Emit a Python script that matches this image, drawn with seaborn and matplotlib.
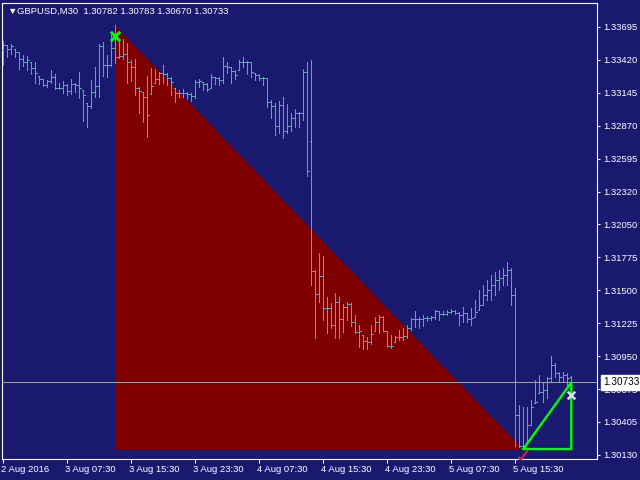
import matplotlib
matplotlib.use("Agg")
from matplotlib import pyplot as plt
import matplotlib.transforms as mtransforms
import numpy as np
import seaborn as sns

# GBPUSD M30 bars
symbol = "GBPUSD,M30"
time_labels = ["2 Aug 2016", "3 Aug 07:30", "3 Aug 15:30", "3 Aug 23:30", "4 Aug 07:30",
               "4 Aug 15:30", "4 Aug 23:30", "5 Aug 07:30", "5 Aug 15:30"]
label_step = 16  # one time label every 16 bars (8 hours)
price_ticks = [1.33695, 1.33420, 1.33145, 1.32870, 1.32595, 1.32320, 1.32050,
               1.31775, 1.31500, 1.31225, 1.30950, 1.30675, 1.30405, 1.30130]

opens = [1.33503, 1.33545, 1.33512, 1.33512, 1.33487, 1.33428, 1.33403, 1.33403, 1.33353, 1.33287,
         1.33262, 1.33212, 1.33245, 1.33278, 1.33187, 1.33187, 1.33212, 1.33162, 1.33220, 1.33212,
         1.33170, 1.33062, 1.33037, 1.33153, 1.33203, 1.33537, 1.33378, 1.33378, 1.33520, 1.33445,
         1.33453, 1.33470, 1.33403, 1.33362, 1.33187, 1.33153, 1.33112, 1.33137, 1.33228, 1.33262,
         1.33312, 1.33303, 1.33270, 1.33187, 1.33145, 1.33145, 1.33145, 1.33137, 1.33120, 1.33237,
         1.33237, 1.33220, 1.33187, 1.33278, 1.33270, 1.33253, 1.33370, 1.33362, 1.33328, 1.33337,
         1.33403, 1.33403, 1.33403, 1.33312, 1.33295, 1.33270, 1.33270, 1.33070, 1.33037, 1.32870,
         1.33045, 1.32828, 1.32870, 1.32937, 1.32978, 1.32978, 1.33320, 1.32745, 1.31662, 1.31470,
         1.31620, 1.31353, 1.31353, 1.31212, 1.31403, 1.31262, 1.31362, 1.31387, 1.31237, 1.31153,
         1.31128, 1.31078, 1.31070, 1.31162, 1.31237, 1.31278, 1.31162, 1.31037, 1.31070, 1.31112,
         1.31112, 1.31120, 1.31187, 1.31262, 1.31262, 1.31262, 1.31270, 1.31270, 1.31278, 1.31328,
         1.31303, 1.31303, 1.31320, 1.31328, 1.31312, 1.31295, 1.31312, 1.31262, 1.31278, 1.31337,
         1.31378, 1.31462, 1.31503, 1.31545, 1.31587, 1.31603, 1.31628, 1.31670, 1.31462, 1.30462,
         1.30203, 1.30237, 1.30378, 1.30562, 1.30645, 1.30653, 1.30670, 1.30770, 1.30878, 1.30812,
         1.30778, 1.30795, 1.30782]
highs = [1.33578, 1.33545, 1.33553, 1.33512, 1.33487, 1.33462, 1.33453, 1.33403, 1.33403, 1.33287,
         1.33262, 1.33253, 1.33337, 1.33303, 1.33228, 1.33245, 1.33220, 1.33262, 1.33228, 1.33320,
         1.33170, 1.33062, 1.33253, 1.33362, 1.33553, 1.33570, 1.33462, 1.33628, 1.33712, 1.33578,
         1.33595, 1.33562, 1.33420, 1.33428, 1.33195, 1.33153, 1.33287, 1.33353, 1.33345, 1.33320,
         1.33378, 1.33312, 1.33278, 1.33187, 1.33170, 1.33178, 1.33153, 1.33145, 1.33253, 1.33262,
         1.33237, 1.33228, 1.33303, 1.33278, 1.33278, 1.33445, 1.33403, 1.33362, 1.33337, 1.33420,
         1.33445, 1.33412, 1.33403, 1.33312, 1.33303, 1.33278, 1.33270, 1.33087, 1.33062, 1.33078,
         1.33112, 1.33053, 1.32978, 1.33012, 1.32987, 1.33345, 1.33403, 1.33420, 1.31670, 1.31812,
         1.31787, 1.31445, 1.31395, 1.31478, 1.31445, 1.31387, 1.31403, 1.31395, 1.31295, 1.31212,
         1.31128, 1.31112, 1.31212, 1.31278, 1.31295, 1.31287, 1.31162, 1.31128, 1.31120, 1.31170,
         1.31187, 1.31212, 1.31270, 1.31328, 1.31278, 1.31295, 1.31287, 1.31287, 1.31337, 1.31328,
         1.31328, 1.31337, 1.31345, 1.31337, 1.31320, 1.31362, 1.31312, 1.31353, 1.31420, 1.31503,
         1.31545, 1.31587, 1.31628, 1.31653, 1.31670, 1.31687, 1.31737, 1.31687, 1.31520, 1.30545,
         1.30528, 1.30528, 1.30587, 1.30753, 1.30795, 1.30737, 1.30778, 1.30953, 1.30895, 1.30820,
         1.30820, 1.30812, 1.30783]
lows = [1.33378, 1.33445, 1.33470, 1.33445, 1.33345, 1.33370, 1.33337, 1.33303, 1.33228, 1.33220,
        1.33203, 1.33195, 1.33228, 1.33178, 1.33178, 1.33145, 1.33128, 1.33137, 1.33153, 1.33103,
        1.32912, 1.32862, 1.33020, 1.33112, 1.33112, 1.33287, 1.33278, 1.33370, 1.33395, 1.33437,
        1.33428, 1.33228, 1.33245, 1.33128, 1.32978, 1.32903, 1.32778, 1.33137, 1.33228, 1.33220,
        1.33228, 1.33212, 1.33128, 1.33070, 1.33112, 1.33112, 1.33095, 1.33078, 1.33103, 1.33195,
        1.33170, 1.33162, 1.33187, 1.33220, 1.33212, 1.33228, 1.33312, 1.33228, 1.33262, 1.33337,
        1.33362, 1.33303, 1.33278, 1.33253, 1.33253, 1.33212, 1.33028, 1.32937, 1.32795, 1.32812,
        1.32770, 1.32812, 1.32828, 1.32862, 1.32862, 1.32920, 1.32453, 1.31545, 1.31103, 1.31403,
        1.31253, 1.31145, 1.31187, 1.31103, 1.31103, 1.31153, 1.31253, 1.31203, 1.31145, 1.31028,
        1.31012, 1.31012, 1.31053, 1.31162, 1.31145, 1.31162, 1.31028, 1.31020, 1.31070, 1.31087,
        1.31087, 1.31103, 1.31170, 1.31195, 1.31187, 1.31203, 1.31245, 1.31253, 1.31262, 1.31253,
        1.31295, 1.31295, 1.31312, 1.31303, 1.31212, 1.31237, 1.31237, 1.31212, 1.31278, 1.31337,
        1.31378, 1.31420, 1.31420, 1.31462, 1.31503, 1.31545, 1.31545, 1.31378, 1.30203, 1.30195,
        1.30178, 1.30237, 1.30378, 1.30562, 1.30645, 1.30570, 1.30603, 1.30737, 1.30778, 1.30737,
        1.30737, 1.30712, 1.30670]
closes = [1.33545, 1.33512, 1.33537, 1.33487, 1.33428, 1.33403, 1.33420, 1.33353, 1.33312, 1.33262,
          1.33212, 1.33245, 1.33278, 1.33187, 1.33187, 1.33212, 1.33162, 1.33220, 1.33212, 1.33187,
          1.33128, 1.33037, 1.33153, 1.33203, 1.33537, 1.33378, 1.33378, 1.33520, 1.33445, 1.33453,
          1.33470, 1.33403, 1.33362, 1.33187, 1.33162, 1.33112, 1.32962, 1.33203, 1.33262, 1.33312,
          1.33303, 1.33270, 1.33237, 1.33145, 1.33145, 1.33145, 1.33137, 1.33120, 1.33237, 1.33245,
          1.33220, 1.33178, 1.33278, 1.33270, 1.33253, 1.33370, 1.33362, 1.33328, 1.33295, 1.33403,
          1.33403, 1.33403, 1.33320, 1.33295, 1.33270, 1.33270, 1.33070, 1.33037, 1.32870, 1.33045,
          1.32828, 1.32870, 1.32937, 1.32978, 1.32978, 1.33320, 1.32495, 1.31662, 1.31470, 1.31620,
          1.31353, 1.31353, 1.31212, 1.31403, 1.31262, 1.31362, 1.31387, 1.31237, 1.31153, 1.31162,
          1.31078, 1.31070, 1.31137, 1.31237, 1.31278, 1.31162, 1.31037, 1.31037, 1.31112, 1.31112,
          1.31120, 1.31187, 1.31262, 1.31262, 1.31262, 1.31270, 1.31270, 1.31278, 1.31328, 1.31303,
          1.31303, 1.31320, 1.31328, 1.31312, 1.31295, 1.31312, 1.31262, 1.31270, 1.31320, 1.31378,
          1.31462, 1.31503, 1.31545, 1.31587, 1.31603, 1.31628, 1.31670, 1.31462, 1.30462, 1.30203,
          1.30203, 1.30378, 1.30528, 1.30570, 1.30653, 1.30670, 1.30770, 1.30878, 1.30812, 1.30778,
          1.30795, 1.30770, 1.30733]

# swing points used by the drawn objects
swing_high_bar = 28
swing_low_bar = 130
high_mark_price = 1.33620
low_mark_price = 1.30128
last_mark_price = 1.30628

bg = "#191970"
bar_color = "#6a9fb5"
fs = 6.8

sns.set_theme(style="dark", rc={
    "axes.facecolor": bg, "figure.facecolor": bg, "axes.edgecolor": "white",
    "axes.linewidth": 0.8, "xtick.color": "white", "ytick.color": "white",
    "text.color": "white", "axes.grid": False,
})
plt.rcParams["font.family"] = ["Liberation Sans", "DejaVu Sans"]

fig = plt.figure(figsize=(6.4, 4.8), dpi=100)
ax = fig.add_axes([2 / 640, 21 / 480, 595 / 640, 456.5 / 480])

x = np.arange(len(closes))

# red triangle from the swing high down to the swing low
hb, lb = swing_high_bar, swing_low_bar
ax.fill([hb, hb, lb], [highs[hb], lows[lb], lows[lb]], color="#800000", lw=0, zorder=1)

# OHLC bars, one pixel wide
ax.vlines(x, lows, highs, color=bar_color, lw=0.5, antialiased=False, zorder=3)
ax.hlines(opens, x - 0.3, x, color=bar_color, lw=0.5, antialiased=False, zorder=3)
ax.hlines(closes, x, x + 0.3, color=bar_color, lw=0.5, antialiased=False, zorder=3)

# last price line
ax.axhline(closes[-1], color="#9aa3ab", lw=0.6, antialiased=False, zorder=4)

# green triangle from swing low to the last close
last = len(closes) - 1
ax.plot([lb, last, last, lb], [lows[lb], closes[-1], lows[lb], lows[lb]],
        color="#00ff00", lw=1.7, solid_joinstyle="miter", zorder=5)

sns.scatterplot(x=[hb], y=[high_mark_price], marker="x", color="#00ff00", s=45,
                linewidth=2.2, ax=ax, zorder=6, legend=False)
sns.scatterplot(x=[last], y=[last_mark_price], marker="x", color="#d8e0f0", s=30,
                linewidth=1.8, ax=ax, zorder=6, legend=False)
sns.scatterplot(x=[lb], y=[low_mark_price], marker="$\u2713$", color="#ff2020", s=60,
                linewidth=0, ax=ax, zorder=6, legend=False)

ax.set_xlim(-0.33, 148.42)
ax.set_ylim(1.30095, 1.33899)

# axes styling
for side in ["left", "right", "top", "bottom"]:
    ax.spines[side].set_visible(True)
    ax.spines[side].set_color("white")
ax.yaxis.tick_right()
ax.set_yticks(price_ticks)
ax.set_yticklabels([f"{p:.5f}" for p in price_ticks])
ax.tick_params(axis="y", which="both", right=True, left=False, length=2.5, width=0.75,
               pad=2.2, labelsize=fs, colors="white")
tick_pos = [i * label_step for i in range(len(time_labels))]
ax.set_xticks(tick_pos)
ax.set_xticklabels(time_labels)
ax.tick_params(axis="x", bottom=True, length=3, width=0.75, pad=1.2, labelsize=fs, colors="white")
shift = mtransforms.ScaledTranslation(-2 / 100, 0, fig.dpi_scale_trans)
for lbl in ax.get_xticklabels():
    lbl.set_ha("left")
    lbl.set_transform(lbl.get_transform() + shift)
ax.set_xlabel("")
ax.set_ylabel("")

# last price box on the price scale
ax.annotate(f"{closes[-1]:.5f}", xy=(1, closes[-1]), xycoords=ax.get_yaxis_transform(),
            xytext=(6, 0), textcoords="offset pixels", ha="left", va="center",
            fontsize=fs + 0.4, color="black", annotation_clip=False, zorder=10,
            bbox=dict(boxstyle="square,pad=0.22", fc="white", ec="white"))

# header line
fig.text(7 / 640, 1 - 11 / 480, "\u25bc", fontsize=fs, color="white", va="center")
fig.text(17 / 640, 1 - 11 / 480,
         f"{symbol}  {opens[-1]:.5f} {highs[-1]:.5f} {lows[-1]:.5f} {closes[-1]:.5f}",
         fontsize=fs, color="white", va="center")

fig.savefig("out.png", dpi=100, facecolor=bg)
